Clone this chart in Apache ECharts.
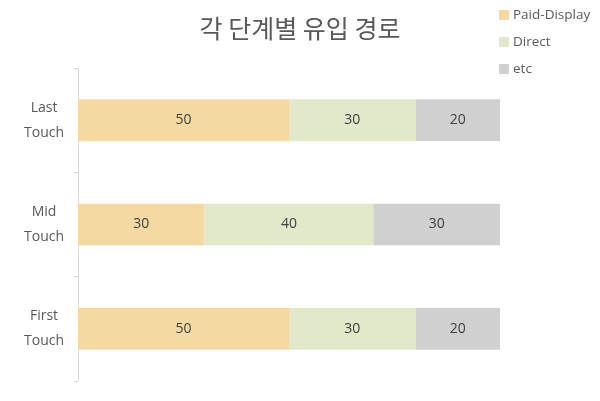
<!DOCTYPE html>
<html>
<head>
<meta charset="utf-8">
<script src="https://cdn.jsdelivr.net/npm/echarts@6/dist/echarts.min.js"></script>
<style>html,body{margin:0;padding:0;background:#fff}#c{width:600px;height:401px}</style>
</head>
<body>
<div id="c"></div>
<script>
const categories = ['First\nTouch', 'Mid\nTouch', 'Last\nTouch'];
const paidDisplay = [50, 30, 50];
const direct = [30, 40, 30];
const etc = [20, 30, 20];
const seriesNames = ['Paid-Display', 'Direct', 'etc'];
const colors = ['#F5D9A3', '#E2E9CA', '#D0D0D0'];
const dataSets = [paidDisplay, direct, etc];

const chart = echarts.init(document.getElementById('c'));
const font = '"Open Sans", "Noto Sans", sans-serif';
chart.setOption({
  animation: false,
  title: {
    text: '각 단계별 유입 경로',
    left: 'center',
    top: 11,
    textStyle: { fontFamily: '"Noto Sans CJK KR", sans-serif', fontSize: 25, fontWeight: 'normal', color: '#595959' }
  },
  legend: {
    orient: 'vertical',
    left: 494,
    top: 3,
    itemWidth: 10,
    itemHeight: 10,
    itemGap: 13,
    icon: 'rect',
    textStyle: { fontFamily: font, fontSize: 13.5, color: '#595959', padding: [0, 0, 0, -1] },
    data: seriesNames
  },
  grid: { left: 78, right: 100, top: 68, bottom: 20, containLabel: false },
  xAxis: {
    type: 'value', min: 0, max: 100, show: false
  },
  yAxis: {
    type: 'category',
    data: categories,
    axisLine: { show: true, lineStyle: { color: '#D9D9D9' } },
    axisTick: { show: true, length: 4, lineStyle: { color: '#D9D9D9' } },
    axisLabel: { fontFamily: font, fontSize: 14, color: '#595959', lineHeight: 25, align: 'center', margin: 34, padding: [4, 0, 0, 0] },
    splitLine: { show: false }
  },
  series: dataSets.map((d, i) => ({
    name: seriesNames[i],
    type: 'bar',
    stack: 'total',
    barWidth: '40%',
    data: d,
    itemStyle: { color: colors[i] },
    label: { show: true, position: 'inside', fontFamily: font, fontSize: 14, color: '#404040' }
  }))
});
</script>
</body>
</html>
